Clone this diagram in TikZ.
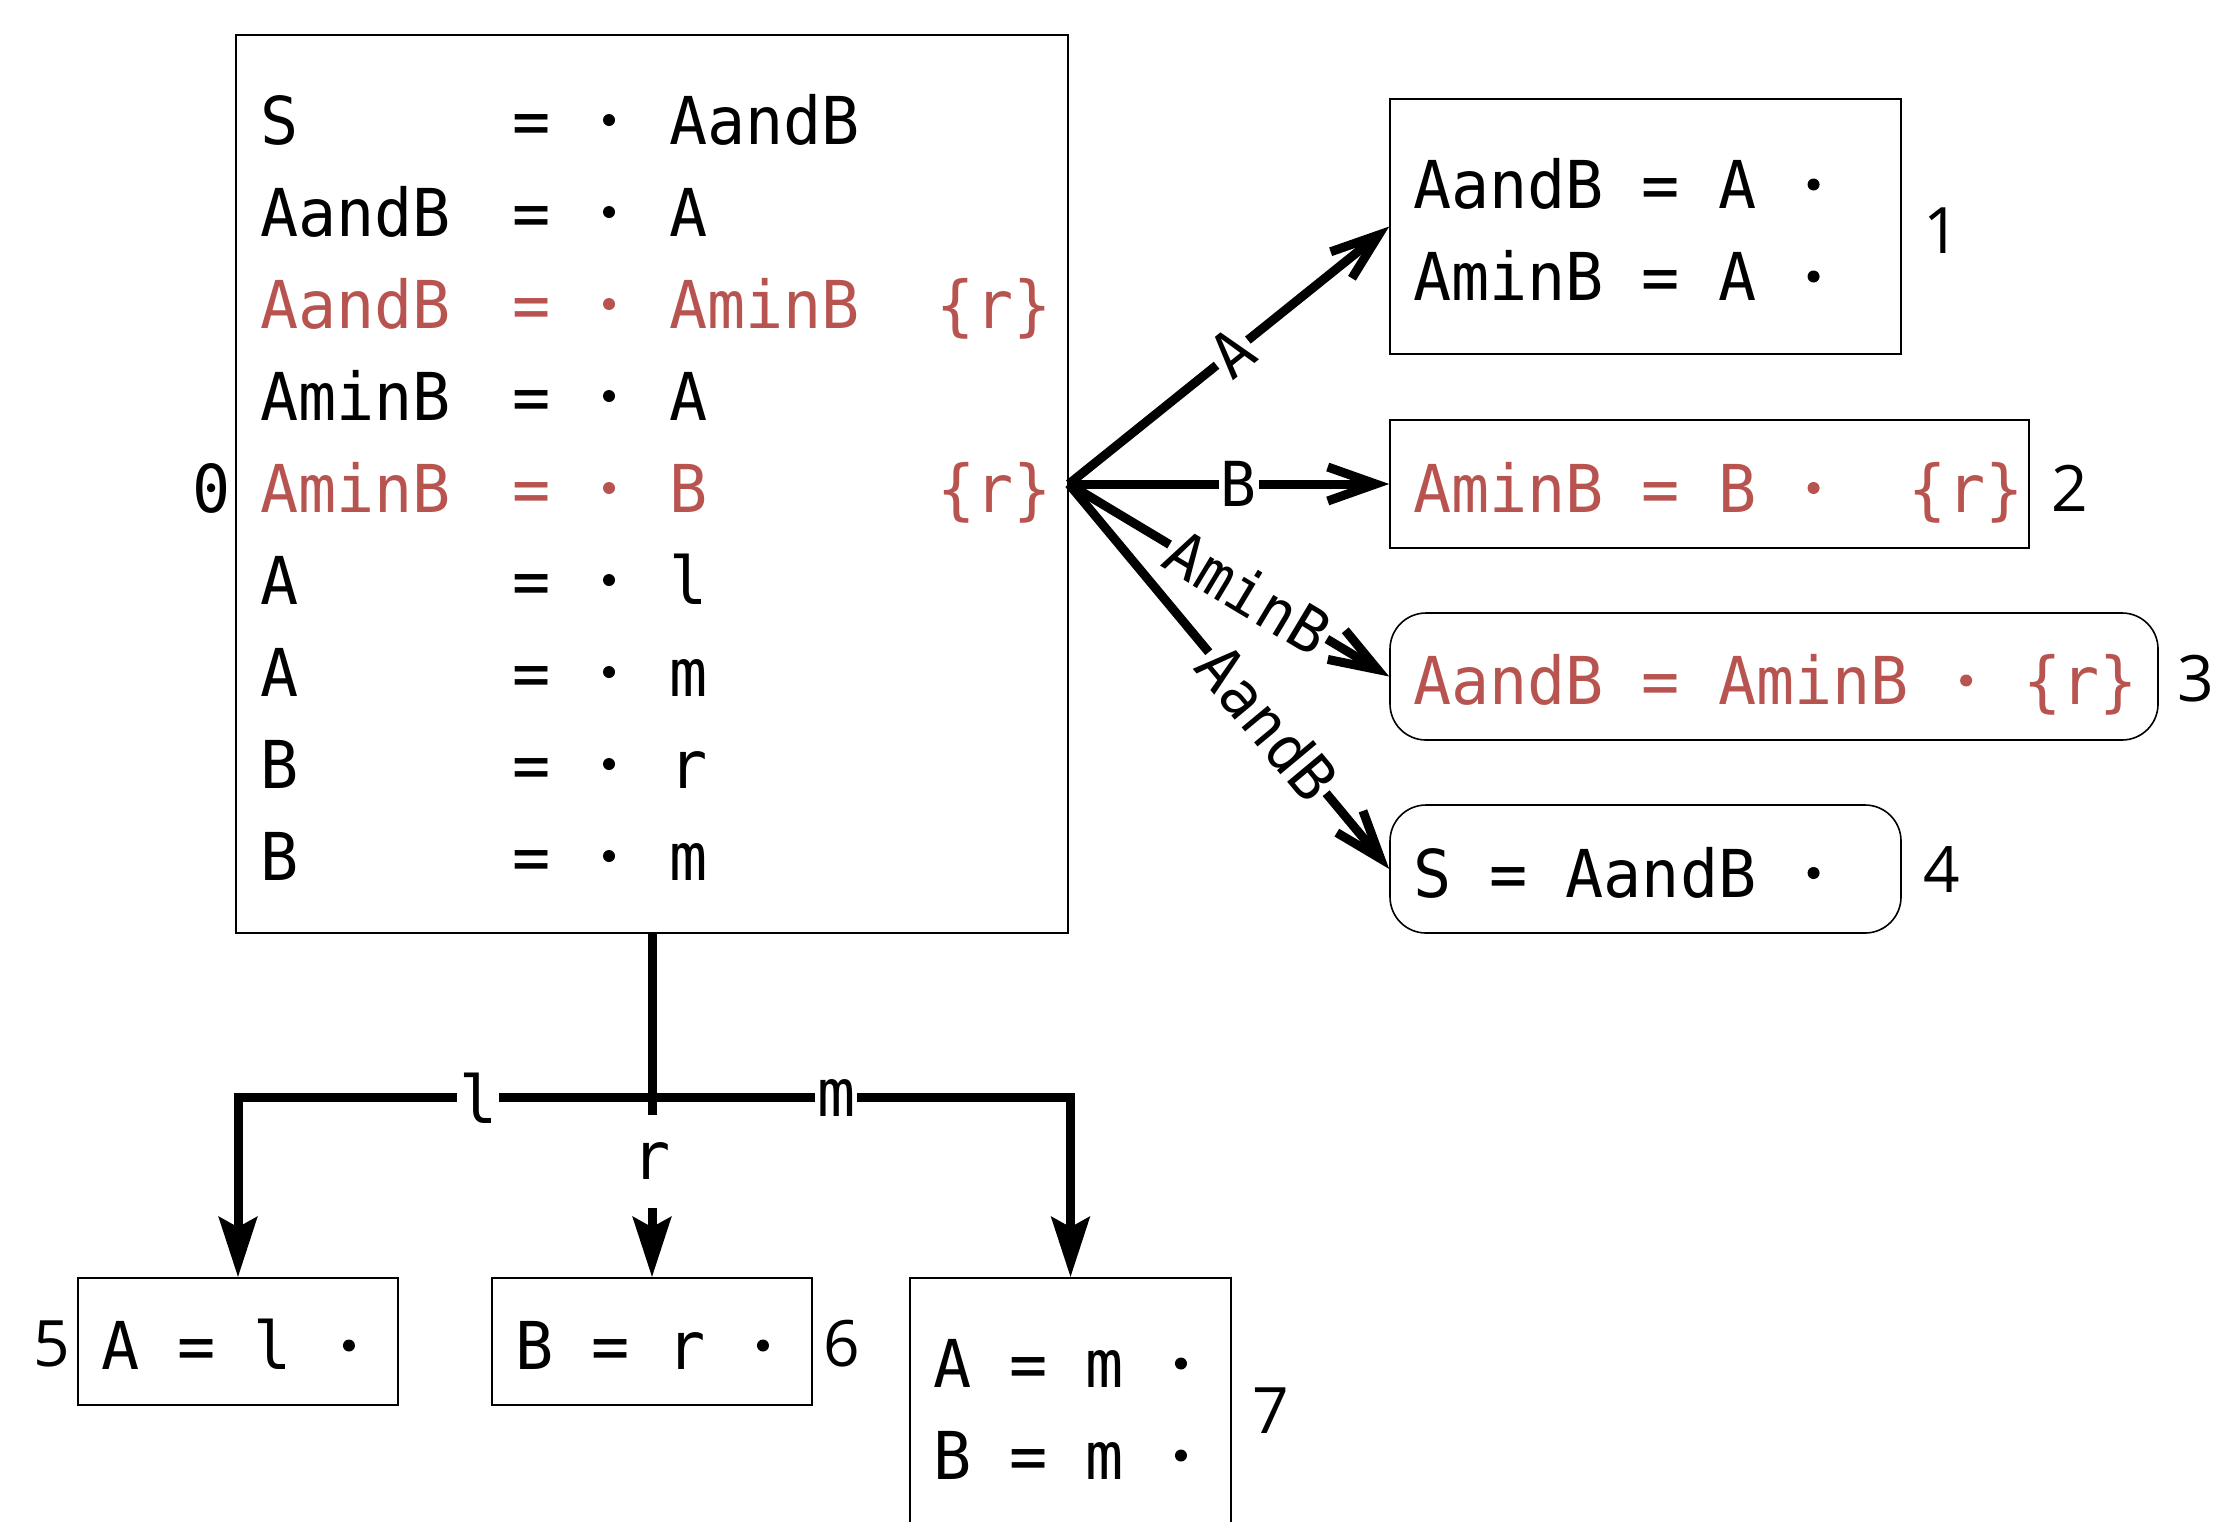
\documentclass[tikz,border=0pt]{standalone}
\usepackage{fontspec}
\usetikzlibrary{arrows.meta}
\newfontfamily\mono[FakeStretch=0.96]{DejaVu Sans Mono}
\newfontfamily\numfont{Open Sans}
\definecolor{redtext}{RGB}{184,84,80}
% one empty character cell of the monospaced font
\newcommand\blank{\hphantom{x}}
% fixed-height strut: every line takes 46pt, caps centred on the strut
\newcommand\rs{\rule[-9pt]{0pt}{46pt}}
% item dot, centred on the capitals, and the same dot filling one cell
\newcommand\itemdot{\tikz[baseline=0pt]\fill (0pt,12pt) circle[radius=3pt];}
\newcommand\itemcell{\makebox[\fontcharwd\font`x][c]{\itemdot}}
% one production row of state 0: lhs, "=", dot, rhs, annotation
\newcommand\prodrow[3]{\rs\makebox[136pt][l]{#1}\makebox[0pt][c]{=}\kern38.5pt\makebox[0pt][c]{\itemdot}\kern30pt\makebox[134pt][l]{#2}#3}
\tikzset{
  box/.style={draw, line width=0.8pt, inner xsep=11.5pt, inner ysep=0pt,
    align=left, font=\mono\fontsize{33}{46}\selectfont},
  rbox/.style={box, rounded corners=18pt},
  edgeR/.style={line width=4.5pt, -{Straight Barb[length=24pt,width=17pt]}},
  edgeD/.style={line width=4.5pt, -{Stealth[length=30pt,width=19pt,inset=5pt]}},
  elabel/.style={fill=white, inner sep=1pt, sloped,
    font=\mono\fontsize{31}{31}\selectfont},
  dlabel/.style={fill=white, inner sep=1pt,
    font=\mono\fontsize{33}{33}\selectfont},
  num/.style={inner sep=0pt, font=\numfont\fontsize{32}{32}\selectfont},
  numz/.style={inner sep=0pt, font=\mono\fontsize{33}{33}\selectfont},
}
\begin{document}
\begin{tikzpicture}[x=0.5pt, y=-0.5pt]
\useasboundingbox (0,0) rectangle (2219,1521);

% state 0
\node[box, inner xsep=12pt, minimum width=416pt, text width=392pt, minimum height=449pt] (n0) at (652,484) {%
\prodrow{S}{AandB}{}\\
\prodrow{AandB}{A}{}\\
{\color{redtext}\prodrow{AandB}{AminB}{\{r\}}}\\
\prodrow{AminB}{A}{}\\
{\color{redtext}\prodrow{AminB}{B}{\{r\}}}\\
\prodrow{A}{l}{}\\
\prodrow{A}{m}{}\\
\prodrow{B}{r}{}\\
\prodrow{B}{m}{}};

% successor states
\node[box, minimum width=255.5pt, text width=232.5pt, minimum height=127.5pt] (n1) at (1645.5,226.5)
  {\rs AandB\blank=\blank A\blank\itemcell\\\rs AminB\blank=\blank A\blank\itemcell};
\node[box, text=redtext, minimum width=319.5pt, text width=296.5pt, minimum height=64pt] (n2) at (1709.5,484)
  {\rs AminB\blank=\blank B\blank\itemcell\blank\blank\{r\}};
\node[rbox, text=redtext, minimum width=384pt, text width=361pt, minimum height=63.5pt] (n3) at (1774,676.5)
  {\rs AandB\blank=\blank AminB\blank\itemcell\blank\{r\}};
\node[rbox, minimum width=255.5pt, text width=232.5pt, minimum height=64pt] (n4) at (1645.5,869)
  {\rs S\blank=\blank AandB\blank\itemcell};
\node[box, minimum width=160pt, text width=137pt, minimum height=63.5pt] (n5) at (238,1341.5)
  {\rs A\blank=\blank l\blank\itemcell};
\node[box, minimum width=160pt, text width=137pt, minimum height=63.5pt] (n6) at (652,1341.5)
  {\rs B\blank=\blank r\blank\itemcell};
\node[box, minimum width=160.5pt, text width=137.5pt, minimum height=127.5pt] (n7) at (1070.5,1405.5)
  {\rs A\blank=\blank m\blank\itemcell\\\rs B\blank=\blank m\blank\itemcell};

% state numbers
\node[numz] (k0) at (212,488) {0};
\node[num] (k1) at (1942,231) {1};
\node[num] (k2) at (2070,488) {2};
\node[num] (k3) at (2196,679) {3};
\node[num] (k4) at (1942,870) {4};
\node[num] (k5) at (52,1344) {5};
\node[num] (k6) at (842,1344) {6};
\node[num] (k7) at (1271,1411) {7};

% transitions to the right
\draw[edgeR] (n0.east) -- node[elabel, pos=0.51] {A} (n1.west);
\draw[edgeR] (n0.east) -- node[elabel, pos=0.53] {B} (n2.west);
\draw[edgeR] (n0.east) -- node[elabel, pos=0.56] {AminB} (n3.west);
\draw[edgeR] (n0.east) -- node[elabel, pos=0.62] {AandB} (n4.west);

% transitions downwards
\draw[edgeD] (n0.south) -- ++(0,164) -| node[dlabel, pos=0.21] {l} (n5.north);
\draw[edgeD] (n0.south) -- ++(0,164) -| node[dlabel, pos=0.22] {m} (n7.north);
\draw[edgeD] (n0.south) -- node[dlabel, pos=0.662, minimum height=46.5pt] {r} (n6.north);
\end{tikzpicture}
\end{document}
